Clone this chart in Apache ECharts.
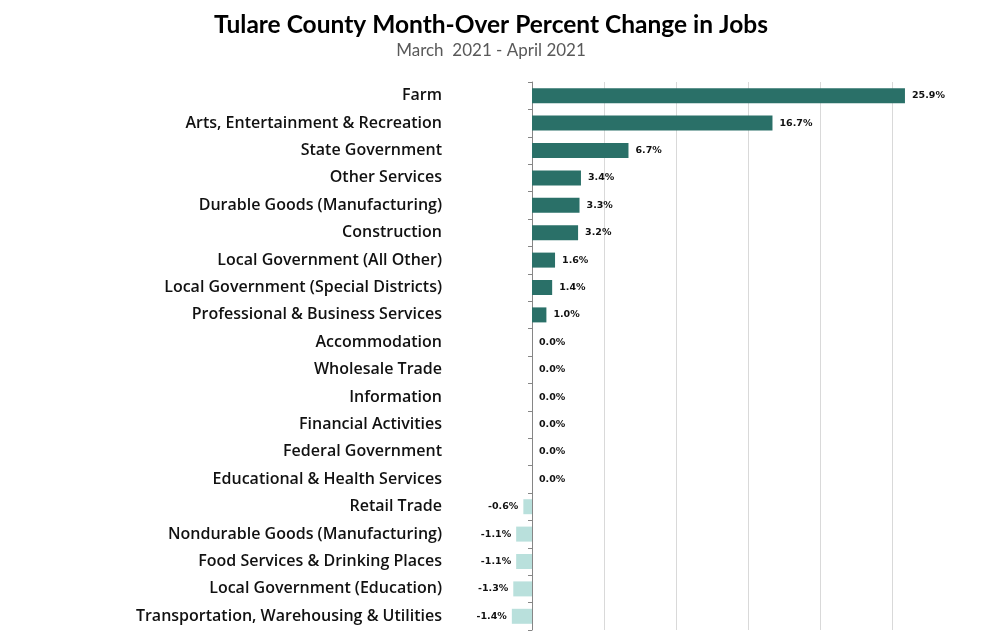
<!DOCTYPE html>
<html>
<head>
<meta charset="utf-8">
<script src="https://cdn.jsdelivr.net/npm/echarts@6/dist/echarts.min.js"></script>
<style>
  html, body { margin: 0; padding: 0; background: #fff; }
  #main { width: 987px; height: 639px; }
</style>
</head>
<body>
<div id="main"></div>
<script>
// categories, top to bottom
var industries = [
  'Farm',
  'Arts, Entertainment & Recreation',
  'State Government',
  'Other Services',
  'Durable Goods (Manufacturing)',
  'Construction',
  'Local Government (All Other)',
  'Local Government (Special Districts)',
  'Professional & Business Services',
  'Accommodation',
  'Wholesale Trade',
  'Information',
  'Financial Activities',
  'Federal Government',
  'Educational & Health Services',
  'Retail Trade',
  'Nondurable Goods (Manufacturing)',
  'Food Services & Drinking Places',
  'Local Government (Education)',
  'Transportation, Warehousing & Utilities'
];
// month-over percent change
var pctChange = [25.9, 16.7, 6.7, 3.4, 3.3, 3.2, 1.6, 1.4, 1.0, 0, 0, 0, 0, 0, 0, -0.6, -1.1, -1.1, -1.3, -1.4];

var posColor = '#2a7068';
var negColor = '#b9e0dc';

var chart = echarts.init(document.getElementById('main'));

var barData = pctChange.map(function (v) {
  return {
    value: v,
    itemStyle: { color: v < 0 ? negColor : posColor },
    label: v < 0 ? { position: 'left', distance: 5 } : { position: 'right', distance: 7 }
  };
});

chart.setOption({
  animation: false,
  title: [{
    text: 'Tulare County Month-Over Percent Change in Jobs',
    left: 486, textAlign: 'center', top: 8,
    textStyle: { fontFamily: 'Lato', fontWeight: 'bold', fontSize: 24.5, color: '#000' }
  }, {
    text: 'March  2021 - April 2021',
    left: 486, textAlign: 'center', top: 37,
    textStyle: { fontFamily: 'Lato', fontWeight: 'normal', fontSize: 17, color: '#595959' }
  }],
  grid: { left: 460, right: 23, top: 82, bottom: 9, containLabel: false },
  xAxis: {
    type: 'value',
    min: -5, max: 30, interval: 5,
    axisLabel: { show: false },
    axisLine: { show: false },
    axisTick: { show: false },
    splitLine: {
      show: true, showMinLine: false, showMaxLine: false,
      lineStyle: { color: '#d9d9d9', width: 1 }
    }
  },
  yAxis: {
    type: 'category',
    data: industries,
    inverse: true,
    axisLine: { show: true, onZero: true, lineStyle: { color: '#868686', width: 1 } },
    axisTick: { show: true, length: 4, lineStyle: { color: '#868686' } },
    axisLabel: {
      margin: 18,
      fontFamily: 'Open Sans', fontWeight: 600, fontSize: 16, color: '#111'
    }
  },
  series: [{
    type: 'bar',
    data: barData,
    barWidth: 15,
    label: {
      show: true,
      fontFamily: 'DejaVu Sans', fontWeight: 'bold', fontSize: 9.5, color: '#111',
      formatter: function (p) { return p.value.toFixed(1) + '%'; }
    }
  }]
});
</script>
</body>
</html>
